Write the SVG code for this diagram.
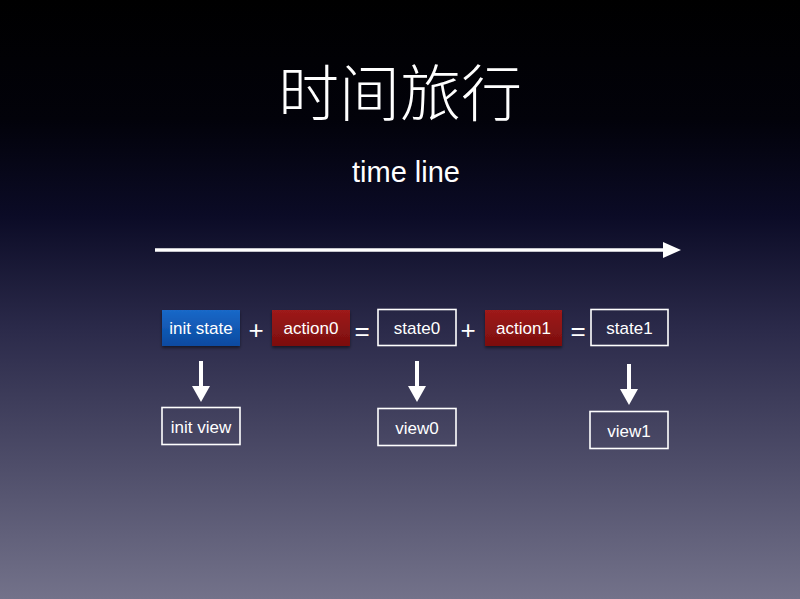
<svg xmlns="http://www.w3.org/2000/svg" width="800" height="599" viewBox="0 0 800 599">
  <defs>
    <linearGradient id="bg" x1="0" y1="0" x2="0" y2="1">
      <stop offset="0" stop-color="#000000"/>
      <stop offset="0.2" stop-color="#02020a"/>
      <stop offset="0.36" stop-color="#0b0b26"/>
      <stop offset="0.55" stop-color="#2b2a4a"/>
      <stop offset="0.78" stop-color="#4f4e6a"/>
      <stop offset="1" stop-color="#73728a"/>
    </linearGradient>
    <linearGradient id="blue" x1="0" y1="0" x2="0" y2="1">
      <stop offset="0" stop-color="#1a68c8"/>
      <stop offset="1" stop-color="#0a4aa0"/>
    </linearGradient>
    <linearGradient id="red" x1="0" y1="0" x2="0" y2="1">
      <stop offset="0" stop-color="#9e1a1a"/>
      <stop offset="1" stop-color="#7c0e0e"/>
    </linearGradient>
    <filter id="shadow" x="-10%" y="-10%" width="130%" height="140%">
      <feDropShadow dx="0" dy="2" stdDeviation="1.5" flood-color="#000" flood-opacity="0.5"/>
    </filter>
  </defs>
  <style>
    text { font-family: "Helvetica Neue", "Liberation Sans", "Noto Sans CJK SC", sans-serif; fill: #ffffff; }
    .title { font-family: "Noto Sans CJK SC", sans-serif; font-weight: 200; font-size: 61px; }
    .sub { font-size: 29px; }
    .lbl { font-size: 17px; text-anchor: middle; }
    .op { font-size: 26px; text-anchor: middle; }
    .outline { fill: none; stroke: #ffffff; stroke-width: 1.6; }
    .filled { stroke: none; filter: url(#shadow); }
    .conn { stroke: #ffffff; stroke-width: 4; fill: none; }
  </style>

  <rect x="0" y="0" width="800" height="599" fill="url(#bg)"/>

  <text class="title" x="400" y="116" text-anchor="middle">时间旅行</text>
  <text class="sub" x="406" y="182" text-anchor="middle">time line</text>

  <g id="connectors">
    <line x1="155" y1="250" x2="664" y2="250" stroke="#ffffff" stroke-width="3.5"/>
    <path d="M663,242 L681,250 L663,258 Z" fill="#ffffff"/>
    <line class="conn" x1="201" y1="361" x2="201" y2="388"/>
    <path d="M192,386 L210,386 L201,402 Z" fill="#ffffff"/>
    <line class="conn" x1="417" y1="361" x2="417" y2="388"/>
    <path d="M408,386 L426,386 L417,402 Z" fill="#ffffff"/>
    <line class="conn" x1="629" y1="364" x2="629" y2="391"/>
    <path d="M620,389 L638,389 L629,405 Z" fill="#ffffff"/>
  </g>

  <g id="init-state">
    <rect class="filled" x="162" y="310" width="78" height="36" fill="url(#blue)"/>
    <text class="lbl" x="201" y="334">init state</text>
  </g>
  <text class="op" x="256" y="339">+</text>
  <g id="action0">
    <rect class="filled" x="272" y="310" width="78" height="36" fill="url(#red)"/>
    <text class="lbl" x="311" y="334">action0</text>
  </g>
  <text class="op" x="362" y="340">=</text>
  <g id="state0">
    <rect class="outline" x="378" y="309.5" width="78" height="36"/>
    <text class="lbl" x="417" y="334">state0</text>
  </g>
  <text class="op" x="468" y="339">+</text>
  <g id="action1">
    <rect class="filled" x="485" y="310" width="77" height="36" fill="url(#red)"/>
    <text class="lbl" x="523.5" y="334">action1</text>
  </g>
  <text class="op" x="578" y="340">=</text>
  <g id="state1">
    <rect class="outline" x="591" y="309.5" width="77" height="36"/>
    <text class="lbl" x="629.5" y="334">state1</text>
  </g>

  <g id="init-view">
    <rect class="outline" x="162" y="407.5" width="78" height="37"/>
    <text class="lbl" x="201" y="433">init view</text>
  </g>
  <g id="view0">
    <rect class="outline" x="378" y="408.5" width="78" height="37"/>
    <text class="lbl" x="417" y="434">view0</text>
  </g>
  <g id="view1">
    <rect class="outline" x="590" y="411.5" width="78" height="37"/>
    <text class="lbl" x="629" y="437">view1</text>
  </g>
</svg>
